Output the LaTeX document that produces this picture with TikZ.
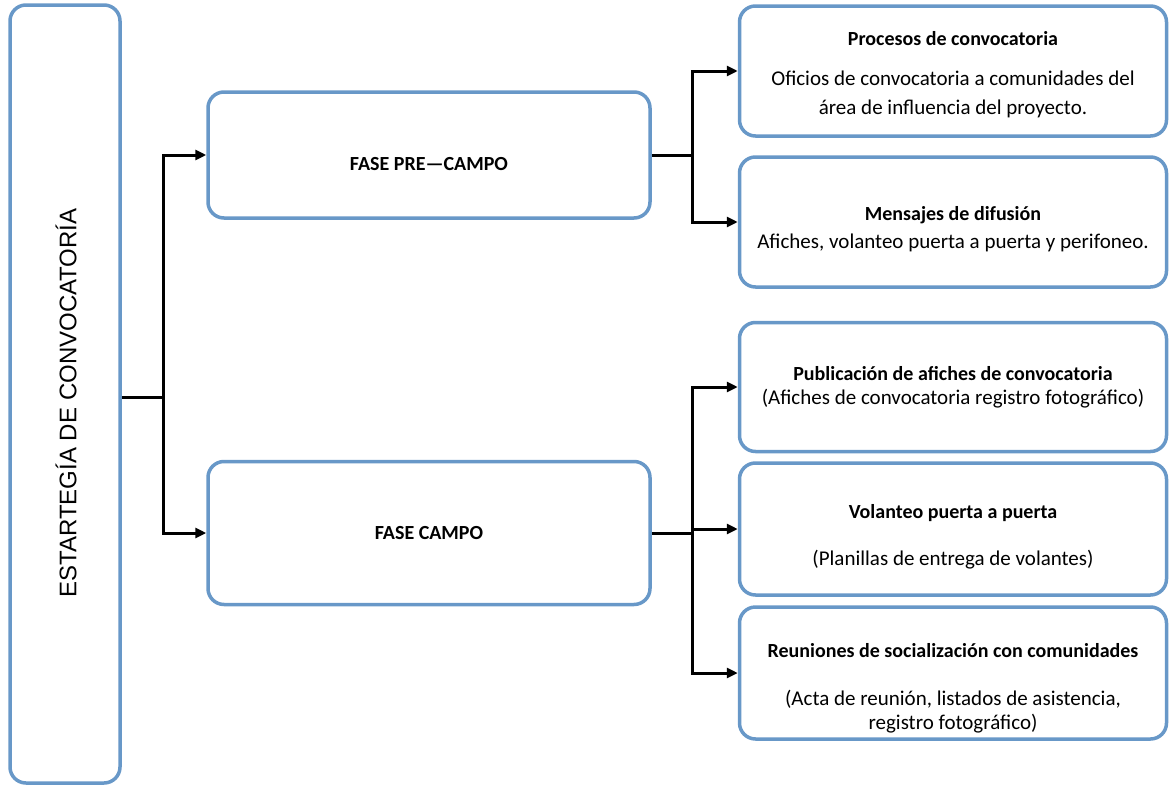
\documentclass[tikz,border=0pt]{standalone}
\usepackage{fontspec}
\setmainfont{Carlito}
\newfontfamily\leftfont{Liberation Sans}
\usetikzlibrary{arrows.meta}
\definecolor{bordblue}{RGB}{104,152,200}
\newcommand\ttl[1]{{\fontsize{20}{24}\selectfont\bfseries #1}}
\tikzset{
  box/.style={draw=bordblue, line width=3.5pt, rounded corners=16pt, fill=white, align=center, inner sep=0pt, font=\fontsize{21}{24}\selectfont},
  conn/.style={line width=3pt, black},
  arr/.style={conn, -{Triangle[length=11pt,width=10pt]}}
}
\begin{document}
\begin{tikzpicture}[x=1pt,y=-1pt]
\useasboundingbox (0,0) rectangle (1170,787);
% left box
\node[box, minimum width=110pt, minimum height=778pt] (L) at (65,394) {};
\node[rotate=90, font=\leftfont\fontsize{24}{28}\selectfont] (Lt) at (66,403) {ESTARTEGÍA DE CONVOCATORÍA};
% phases
\node[box, minimum width=442pt, minimum height=126pt] (P1) at (429,155) {\mbox{}\\[8pt]\ttl{FASE PRE—CAMPO}};
\node[box, minimum width=442pt, minimum height=143pt] (P2) at (429,533) {\ttl{FASE CAMPO}};
% right boxes
\node[box, minimum width=427pt, minimum height=130pt] (A) at (953,71)
  {\mbox{}\\[-2pt]\ttl{Procesos de convocatoria}\\[16pt]Oficios de convocatoria a comunidades del\\[5pt]área de influencia del proyecto.};
\node[box, minimum width=427pt, minimum height=130pt] (B) at (953,222)
  {\mbox{}\\[4pt]\ttl{Mensajes de difusión}\\[4pt]Afiches, volanteo puerta a puerta y perifoneo.};
\node[box, minimum width=427pt, minimum height=129pt] (C) at (953,387)
  {\ttl{Publicación de afiches de convocatoria}\\[0pt](Afiches de convocatoria registro fotográfico)};
\node[box, minimum width=427pt, minimum height=132pt] (D) at (953,529)
  {\mbox{}\\[6pt]\ttl{Volanteo puerta a puerta}\\[23pt](Planillas de entrega de volantes)};
\node[box, minimum width=427pt, minimum height=132pt] (E) at (953,673)
  {\mbox{}\\[20pt]\ttl{Reuniones de socialización con comunidades}\\[24pt](Acta de reunión, listados de asistencia,\\[0pt]registro fotográfico)};
% connectors
\coordinate (j0) at (163,397);
\draw[conn] (L.east |- j0) -- (j0);
\draw[arr] (j0) |- (P1.west);
\draw[arr] (j0) |- (P2.west);
\coordinate (j1) at (692,155);
\draw[conn] (P1.east) -- (j1);
\draw[arr] (j1) |- (A.west);
\draw[arr] (j1) |- (B.west);
\coordinate (j2) at (692,533);
\draw[conn] (P2.east) -- (j2);
\draw[arr] (j2) |- (C.west);
\draw[arr] (j2) |- (D.west);
\draw[arr] (j2) |- (E.west);
\end{tikzpicture}
\end{document}
